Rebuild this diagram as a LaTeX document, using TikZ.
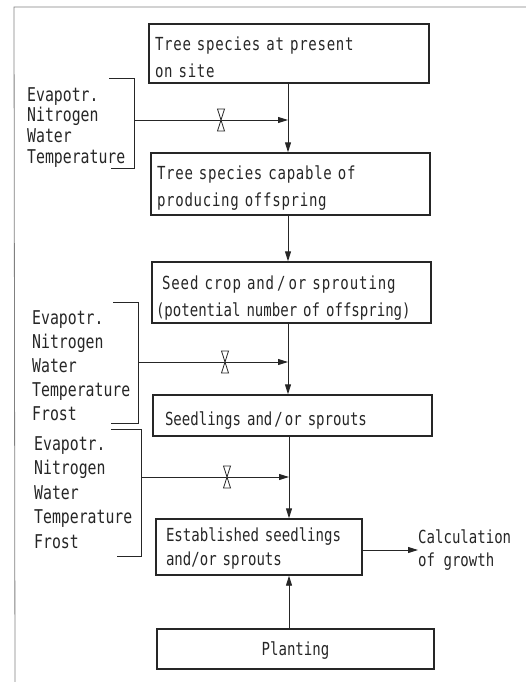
\documentclass[tikz,border=0pt]{standalone}
\usepackage{fontspec}
\setmainfont{DejaVu Sans Mono}[FakeStretch=0.78]
\usetikzlibrary{arrows.meta}
\definecolor{ink}{HTML}{262626}
\newcommand{\andor}{and\kern2pt/\kern2pt or}
\newcommand{\lowerby}[1]{\rule{0pt}{#1}}
\begin{document}
\begin{tikzpicture}[x=1pt,y=-1pt,
  every node/.style={text=ink,font=\fontsize{18}{27}\selectfont},
  box/.style={draw=ink,line width=1.4pt,rectangle,align=left,inner xsep=6pt,inner ysep=0pt,anchor=center},
  wide/.style={font=\fontsize{18}{27}\selectfont\addfontfeature{LetterSpace=4}},
  conn/.style={draw=ink,line width=0.9pt},
  arr/.style={conn,-{Triangle[length=10pt,width=6pt]}},
  lbl/.style={align=left,anchor=north west,inner sep=0pt},
  valvetri/.style={draw=ink,line width=0.8pt,fill=white}]
\useasboundingbox (0,0) rectangle (526,682);
% frame
\draw[gray,line width=0.8pt] (526,7) -- (14,7) -- (15,682);
% boxes
\node[box,wide,minimum width=280pt,minimum height=59pt,text width=268pt] (b1) at (289,53.5) {\lowerby{21pt}Tree species at present\\on site};
\node[box,wide,minimum width=279pt,minimum height=62pt,text width=267pt] (b2) at (290.5,184) {\lowerby{21pt}Tree species capable of\\producing offspring};
\node[box,minimum width=279pt,minimum height=61pt,inner xsep=4pt,text width=271pt] (b3) at (291.5,292.5) {\lowerby{25pt}\hspace*{6pt}{\addfontfeature{LetterSpace=5}Seed crop and\kern3pt/\kern3pt or sprouting}\\(potential number of offspring)};
\node[box,minimum width=279pt,minimum height=41pt,inner xsep=12pt,text width=255pt] (b4) at (292.5,415.5) {\lowerby{24pt}Seedlings \andor{} sprouts};
\node[box,minimum width=206pt,minimum height=56pt,font=\fontsize{18}{24}\selectfont,inner xsep=10pt,text width=186pt] (b5) at (259,547) {\lowerby{17pt}Established seedlings\\and/or sprouts};
\node[box,minimum width=277pt,minimum height=40pt,text width=265pt,align=center] (b6) at (295.5,649) {\lowerby{16pt}Planting};
\node[lbl,anchor=west,font=\fontsize{18}{23}\selectfont] (calc) at (418,550) {Calculation\\of growth};
% spine
\coordinate (spine) at (288,0);
\coordinate (j1) at (288,120);
\coordinate (j2) at (288,362);
\coordinate (j3) at (289,477);
\draw[arr] (b1.south -| spine) -- (b2.north -| spine);
\draw[arr] (b2.south -| spine) -- (b3.north -| spine);
\draw[arr] (b3.south -| spine) -- (b4.north -| spine);
\draw[arr] (b4.south -| j3) -- (b5.north -| j3);
\draw[arr] (b6.north -| j3) -- (b5.south -| j3);
\draw[arr] (b5.east |- calc.west) -- (calc.west);
% label blocks
\node[lbl,font=\fontsize{19}{20.7}\selectfont] (L1) at (27,87) {Evapotr.\\Nitrogen\\Water\\Temperature};
\node[lbl,font=\fontsize{19}{24}\selectfont] (L2) at (32,310) {Evapotr.\\Nitrogen\\Water\\Temperature\\Frost};
\node[lbl,font=\fontsize{19}{24.5}\selectfont] (L3) at (34,436) {Evapotr.\\Nitrogen\\Water\\Temperature\\Frost};
% brackets
\coordinate (k1a) at (109,78);  \coordinate (k1b) at (134,78);
\coordinate (k1c) at (134,168); \coordinate (k1d) at (111,168);
\coordinate (k1m) at (134,120);
\draw[conn] (k1a) -- (k1b) -- (k1c) -- (k1d);
\coordinate (k2a) at (113,302); \coordinate (k2b) at (138,302);
\coordinate (k2c) at (138,423); \coordinate (k2d) at (111,423);
\coordinate (k2m) at (138,362);
\draw[conn] (k2a) -- (k2b) -- (k2c) -- (k2d);
\coordinate (k3a) at (111,429); \coordinate (k3b) at (141,429);
\coordinate (k3c) at (141,556); \coordinate (k3d) at (117,556);
\coordinate (k3m) at (141,477);
\draw[conn] (k3a) -- (k3b) -- (k3c) -- (k3d);
% influence arrows
\draw[arr] (k1m) -- (j1);
\draw[arr] (k2m) -- (j2);
\draw[arr] (k3m) -- (j3);
% valves
\foreach \vx/\vy in {221/120, 225/362, 227/477}{
  \draw[valvetri] (\vx-3.5,\vy-11) -- (\vx+3.5,\vy-11) -- (\vx,\vy) -- cycle;
  \draw[valvetri] (\vx-3.5,\vy+11) -- (\vx+3.5,\vy+11) -- (\vx,\vy) -- cycle;
}
\end{tikzpicture}
\end{document}
